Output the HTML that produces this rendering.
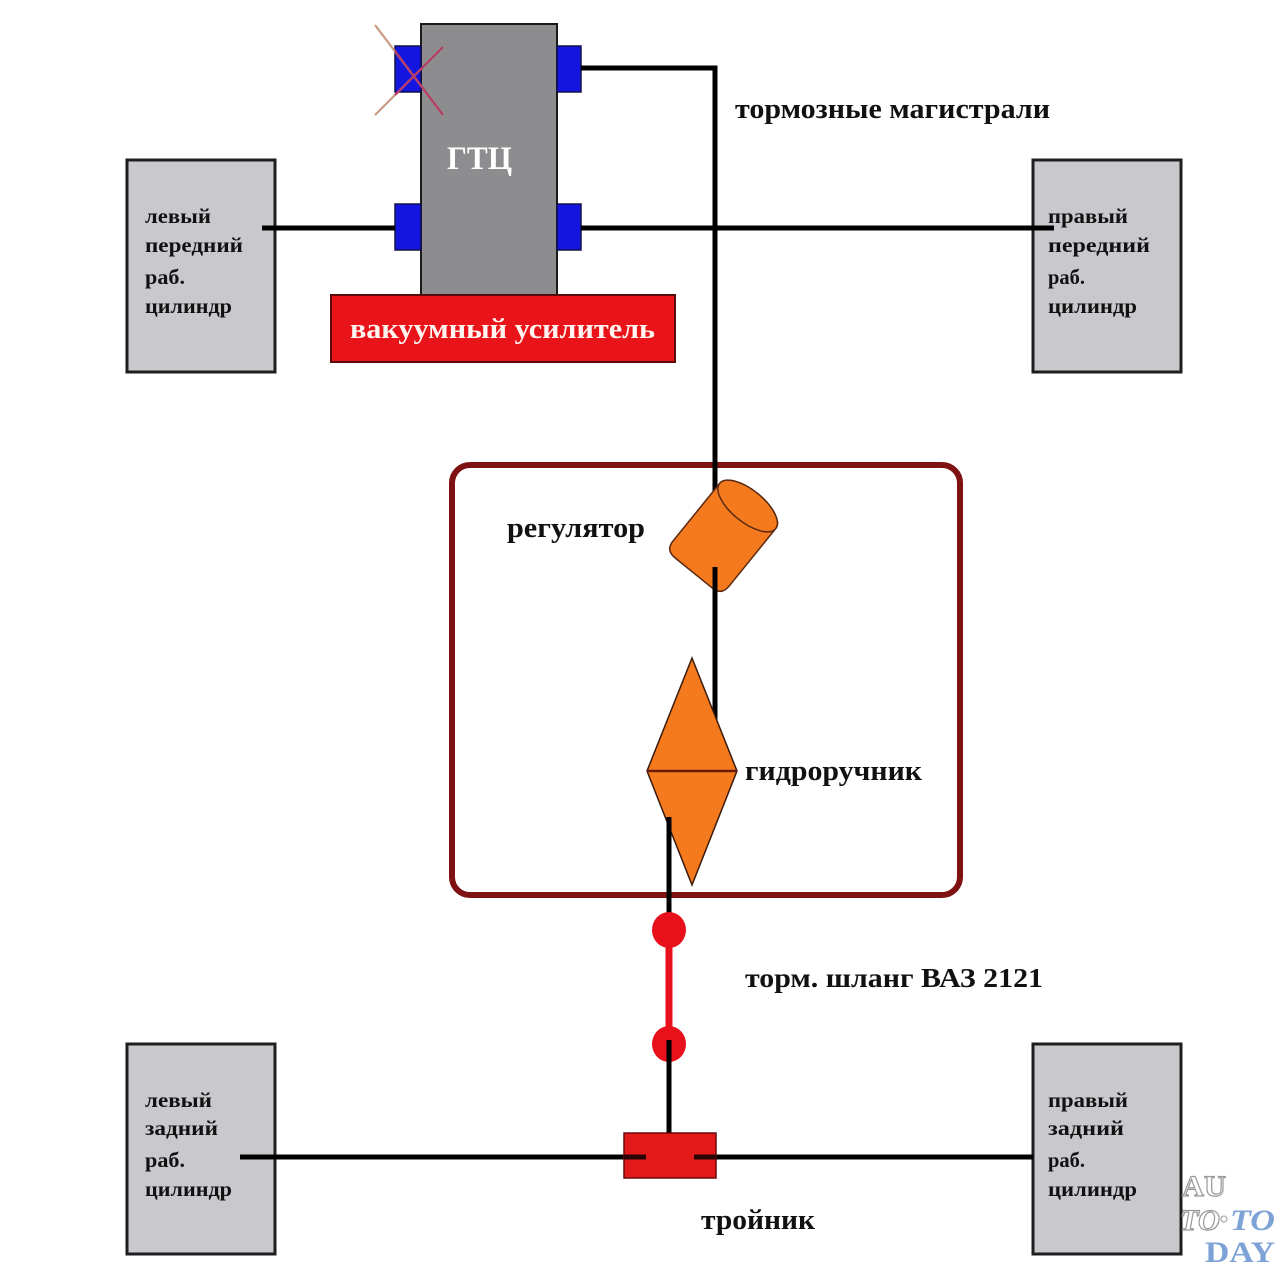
<!DOCTYPE html>
<html><head><meta charset="utf-8"><style>
html,body{margin:0;padding:0;background:#fff;}
svg{display:block;}
text{font-family:"Liberation Serif","Noto Serif CJK SC",serif;font-weight:bold;}
</style></head><body>
<svg width="1280" height="1270" viewBox="0 0 1280 1270" xmlns="http://www.w3.org/2000/svg">
<rect width="1280" height="1270" fill="#ffffff"/>

<!-- front wheel boxes -->
<rect x="127" y="160" width="148" height="212" fill="#c9c8cd" stroke="#1e1e1e" stroke-width="3"/>
<rect x="1033" y="160" width="148" height="212" fill="#c9c8cd" stroke="#1e1e1e" stroke-width="3"/>
<!-- rear wheel boxes -->
<rect x="127" y="1044" width="148" height="210" fill="#c9c8cd" stroke="#1e1e1e" stroke-width="3"/>
<rect x="1033" y="1044" width="148" height="210" fill="#c9c8cd" stroke="#1e1e1e" stroke-width="3"/>

<!-- box texts -->
<g font-size="21" fill="#111">
<text x="145" y="223" textLength="66" lengthAdjust="spacingAndGlyphs">левый</text>
<text x="145" y="252" textLength="98" lengthAdjust="spacingAndGlyphs">передний</text>
<text x="145" y="284" textLength="40" lengthAdjust="spacingAndGlyphs">раб.</text>
<text x="145" y="313" textLength="87" lengthAdjust="spacingAndGlyphs">цилиндр</text>

<text x="1048" y="223" textLength="80" lengthAdjust="spacingAndGlyphs">правый</text>
<text x="1048" y="252" textLength="102" lengthAdjust="spacingAndGlyphs">передний</text>
<text x="1048" y="284" textLength="37" lengthAdjust="spacingAndGlyphs">раб.</text>
<text x="1048" y="313" textLength="89" lengthAdjust="spacingAndGlyphs">цилиндр</text>

<text x="145" y="1107" textLength="67" lengthAdjust="spacingAndGlyphs">левый</text>
<text x="145" y="1135" textLength="73" lengthAdjust="spacingAndGlyphs">задний</text>
<text x="145" y="1167" textLength="40" lengthAdjust="spacingAndGlyphs">раб.</text>
<text x="145" y="1196" textLength="87" lengthAdjust="spacingAndGlyphs">цилиндр</text>

<text x="1048" y="1107" textLength="80" lengthAdjust="spacingAndGlyphs">правый</text>
<text x="1048" y="1135" textLength="76" lengthAdjust="spacingAndGlyphs">задний</text>
<text x="1048" y="1167" textLength="37" lengthAdjust="spacingAndGlyphs">раб.</text>
<text x="1048" y="1196" textLength="89" lengthAdjust="spacingAndGlyphs">цилиндр</text>
</g>

<!-- GTC body -->
<rect x="421" y="24" width="136" height="280" fill="#8d8d8f" stroke="#1a1a1a" stroke-width="2"/>
<text x="447" y="169" font-size="33" fill="#ffffff" textLength="65" lengthAdjust="spacingAndGlyphs">ГТЦ</text>

<!-- ports -->
<g fill="#1515e0" stroke="#10104a" stroke-width="1.5">
<rect x="395" y="46" width="26" height="46"/>
<rect x="557" y="46" width="24" height="46"/>
<rect x="395" y="204" width="26" height="46"/>
<rect x="557" y="204" width="24" height="46"/>
</g>
<!-- red cross -->
<g stroke-width="2.2" fill="none">
<line x1="375" y1="25" x2="443" y2="115" stroke="#c99a80"/>
<line x1="375" y1="115" x2="443" y2="47" stroke="#c99a80"/>
<line x1="395" y1="51" x2="443" y2="115" stroke="#b83a66"/>
<line x1="395" y1="95" x2="443" y2="47" stroke="#b83a66"/>
</g>

<!-- vacuum booster -->
<rect x="331" y="295" width="344" height="67" fill="#e8141a" stroke="#5a0a0a" stroke-width="2"/>
<text x="350" y="338" font-size="29" fill="#fff4f0" textLength="305" lengthAdjust="spacingAndGlyphs">вакуумный усилитель</text>

<!-- brake lines -->
<g stroke="#000" stroke-width="5" fill="none">
<line x1="262" y1="228" x2="395" y2="228"/>
<line x1="581" y1="228" x2="1054" y2="228"/>
<polyline points="581,68 715,68 715,495"/>
</g>

<text x="735" y="118" font-size="28" fill="#111" textLength="315" lengthAdjust="spacingAndGlyphs">тормозные магистрали</text>

<!-- rounded frame -->
<rect x="452" y="465" width="508" height="430" rx="18" ry="18" fill="none" stroke="#7e1212" stroke-width="6"/>
<line x1="715" y1="455" x2="715" y2="495" stroke="#000" stroke-width="5"/>

<!-- regulator cylinder -->
<g transform="translate(725,534) rotate(39)">
<path d="M -36 -36 L -36 38 Q -36 50 -24 50 L 24 50 Q 36 50 36 38 L 36 -36 A 36 16 0 0 0 -36 -36 Z" fill="#f57a1e" stroke="#5a2a10" stroke-width="1.5"/>
<ellipse cx="0" cy="-36" rx="36" ry="16" fill="#f57a1e" stroke="#5a2a10" stroke-width="1.5"/>
</g>
<text x="507" y="537" font-size="28" fill="#111" textLength="138" lengthAdjust="spacingAndGlyphs">регулятор</text>

<line x1="715" y1="567" x2="715" y2="724" stroke="#000" stroke-width="5"/>

<!-- hydraulic handbrake diamond -->
<polygon points="692,658 737,771 692,885 647,771" fill="#f57a1e" stroke="#3a1a0a" stroke-width="1.5"/>
<line x1="647" y1="771" x2="737" y2="771" stroke="#6a1a0a" stroke-width="2.5"/>
<text x="745" y="780" font-size="28" fill="#111" textLength="177" lengthAdjust="spacingAndGlyphs">гидроручник</text>

<line x1="669" y1="817" x2="669" y2="930" stroke="#000" stroke-width="5"/>

<!-- hose -->
<line x1="669" y1="930" x2="669" y2="1044" stroke="#e8101a" stroke-width="7"/>
<ellipse cx="669" cy="930" rx="17" ry="18" fill="#e8101a"/>
<ellipse cx="669" cy="1044" rx="17" ry="18" fill="#e8101a"/>
<line x1="669" y1="1040" x2="669" y2="1134" stroke="#000" stroke-width="5"/>
<text x="745" y="987" font-size="27" fill="#111" textLength="298" lengthAdjust="spacingAndGlyphs">торм. шланг ВАЗ 2121</text>

<!-- rear line and tee -->
<line x1="240" y1="1157" x2="1033" y2="1157" stroke="#000" stroke-width="5"/>
<rect x="624" y="1133" width="92" height="45" fill="#e41a1a" stroke="#6a0a0a" stroke-width="1.5"/>
<line x1="624" y1="1157" x2="646" y2="1157" stroke="#2a0505" stroke-width="5"/>
<line x1="694" y1="1157" x2="716" y2="1157" stroke="#2a0505" stroke-width="5"/>
<text x="701" y="1229" font-size="28" fill="#111" textLength="114" lengthAdjust="spacingAndGlyphs">тройник</text>

<!-- watermark -->
<g font-family="Liberation Serif, serif" font-weight="bold">
<text x="1182" y="1196" font-size="30" fill="#ffffff" stroke="#9a9a9a" stroke-width="1.2" textLength="44" lengthAdjust="spacingAndGlyphs">AU</text>
<text x="1180" y="1230" font-size="30" font-style="italic" fill="#ffffff" stroke="#9a9a9a" stroke-width="1.2" textLength="40" lengthAdjust="spacingAndGlyphs">TO</text>
<circle cx="1224" cy="1219" r="3" fill="#ffffff" stroke="#9a9a9a" stroke-width="1"/>
<text x="1230" y="1230" font-size="30" font-style="italic" fill="#7da2d6" textLength="45" lengthAdjust="spacingAndGlyphs">TO</text>
<text x="1205" y="1262" font-size="30" fill="#7da2d6" textLength="70" lengthAdjust="spacingAndGlyphs">DAY</text>
</g>
</svg>
</body></html>
